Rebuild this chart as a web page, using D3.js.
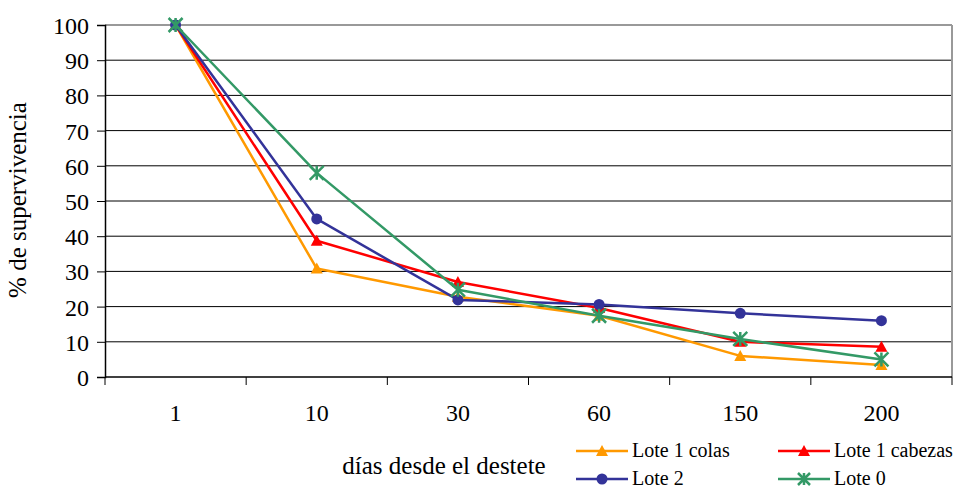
<!DOCTYPE html>
<html>
<head>
<meta charset="utf-8">
<script src="https://cdn.jsdelivr.net/npm/d3@7"></script>
<style>
  body { margin: 0; background: #fff; }
  svg { display: block; }
</style>
</head>
<body>
<svg id="chart" width="961" height="489"></svg>
<script>
// Survival (%) per batch over days since weaning
const days = ["1", "10", "30", "60", "150", "200"];
const yTicks = [0, 10, 20, 30, 40, 50, 60, 70, 80, 90, 100];
const lote1Colas = [100, 30.8, 22.8, 17.4, 6, 3.4];
const lote1Cabezas = [100, 38.7, 27, 19.6, 10, 8.6];
const lote2 = [100, 44.9, 21.9, 20.6, 18.1, 16];
const lote0 = [100, 58, 24.8, 17.4, 10.8, 5];

const series = [
  { name: "Lote 1 colas", values: lote1Colas, color: "#FF9900", marker: "triangle" },
  { name: "Lote 1 cabezas", values: lote1Cabezas, color: "#FF0000", marker: "triangle" },
  { name: "Lote 2", values: lote2, color: "#333399", marker: "circle" },
  { name: "Lote 0", values: lote0, color: "#339966", marker: "star" }
];

const FONT = "'Liberation Serif', 'DejaVu Serif', serif";
const svg = d3.select("#chart");
const plotL = 105, plotR = 952, plotT = 25, plotB = 377;

const x = d3.scaleBand().domain(days).range([plotL, plotR]);
const y = d3.scaleLinear().domain([0, 100]).range([plotB, plotT]);

// horizontal gridlines
svg.append("g").selectAll("line")
  .data(yTicks.filter(t => t > 0 && t < 100))
  .join("line")
  .attr("x1", plotL).attr("x2", plotR)
  .attr("y1", d => y(d)).attr("y2", d => y(d))
  .attr("stroke", "#000").attr("stroke-width", 1);

// plot area frame (top and right)
svg.append("line").attr("x1", plotL).attr("x2", plotR).attr("y1", y(100)).attr("y2", y(100))
  .attr("stroke", "#999").attr("stroke-width", 2);
svg.append("line").attr("x1", plotR).attr("x2", plotR).attr("y1", plotT).attr("y2", plotB)
  .attr("stroke", "#999").attr("stroke-width", 2);

// y axis
const yAxis = svg.append("g")
  .attr("transform", `translate(${plotL},0)`)
  .call(d3.axisLeft(y).tickValues(yTicks).tickSize(8).tickPadding(8).tickFormat(d3.format("d")))
  .attr("font-family", null);
yAxis.select(".domain").attr("stroke", "#000").attr("stroke-width", 1.5);
yAxis.selectAll(".tick line").attr("stroke", "#000");
yAxis.selectAll("text").attr("fill", "#000").attr("dy", "0.35em")
  .style("font-family", FONT).style("font-size", "24px");

// x axis: tick marks at band boundaries, labels at band centres
const xg = svg.append("g").attr("transform", `translate(0,${plotB})`);
xg.append("line").attr("x1", plotL).attr("x2", plotR).attr("stroke", "#000").attr("stroke-width", 1.5);
const boundaries = days.map(d => x(d) + x.bandwidth());
xg.selectAll("line.tk").data(boundaries).join("line").attr("class", "tk")
  .attr("x1", d => d).attr("x2", d => d).attr("y1", 0).attr("y2", 8)
  .attr("stroke", "#000");
xg.append("line").attr("x1", plotL).attr("x2", plotL).attr("y1", 0).attr("y2", 8).attr("stroke", "#000");
xg.selectAll("text").data(days).join("text")
  .attr("x", d => x(d) + x.bandwidth() / 2).attr("y", 44)
  .attr("text-anchor", "middle").attr("fill", "#000")
  .style("font-family", FONT).style("font-size", "24px")
  .text(d => d);

// axis titles
svg.append("text")
  .attr("transform", `translate(26,200) rotate(-90)`)
  .attr("text-anchor", "middle").attr("fill", "#000")
  .style("font-family", FONT).style("font-size", "25px")
  .text("% de supervivencia");
svg.append("text")
  .attr("x", 444).attr("y", 474)
  .attr("text-anchor", "middle").attr("fill", "#000")
  .style("font-family", FONT).style("font-size", "25px")
  .text("días desde el destete");

const cx = d => x(d) + x.bandwidth() / 2;
const line = d3.line().x(d => cx(d.day)).y(d => y(d.v));

function drawMarker(g, type, color, px, py, s) {
  if (type === "triangle") {
    g.append("path")
      .attr("d", `M${px},${py - 6}L${px + 6},${py + 5}L${px - 6},${py + 5}Z`)
      .attr("fill", color);
  } else if (type === "circle") {
    g.append("circle").attr("cx", px).attr("cy", py).attr("r", 5.5).attr("fill", color);
  } else if (type === "star") {
    const r = s || 7;
    g.append("path")
      .attr("d", `M${px - r},${py - r}L${px + r},${py + r}M${px - r},${py + r}L${px + r},${py - r}M${px},${py - r}L${px},${py + r}`)
      .attr("stroke", color).attr("stroke-width", 2.5).attr("fill", "none");
  }
}

series.forEach(s => {
  const pts = s.values.map((v, i) => ({ day: days[i], v }));
  const g = svg.append("g");
  g.append("path").datum(pts).attr("d", line)
    .attr("fill", "none").attr("stroke", s.color).attr("stroke-width", 2.5)
    .attr("stroke-linejoin", "round");
  pts.forEach(p => drawMarker(g, s.marker, s.color, cx(p.day), y(p.v)));
});

// legend
const legendPos = [
  { s: series[0], x: 576, y: 451 },
  { s: series[1], x: 778, y: 451 },
  { s: series[2], x: 576, y: 479 },
  { s: series[3], x: 778, y: 479 }
];
legendPos.forEach(l => {
  const g = svg.append("g");
  g.append("line").attr("x1", l.x).attr("x2", l.x + 52).attr("y1", l.y).attr("y2", l.y)
    .attr("stroke", l.s.color).attr("stroke-width", 2.5);
  drawMarker(g, l.s.marker, l.s.color, l.x + 26, l.y, 6);
  g.append("text").attr("x", l.x + 56).attr("y", l.y + 6).attr("fill", "#000")
    .style("font-family", FONT).style("font-size", "20px").text(l.s.name);
});
</script>
</body>
</html>
